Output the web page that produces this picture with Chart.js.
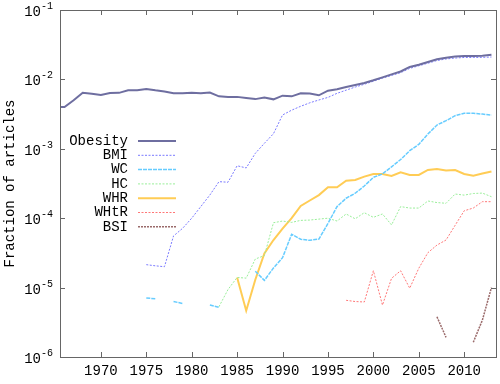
<!DOCTYPE html>
<html>
<head>
<meta charset="utf-8">
<script src="https://cdn.jsdelivr.net/npm/chart.js@4"></script>
<style>
  html, body { margin: 0; padding: 0; background: #fff; }
  #wrap { width: 500px; height: 384px; }
</style>
</head>
<body>
<div id="wrap"><canvas id="lineChart"></canvas></div>
<script>
// years 1965..2013
var years = [];
for (var y = 1965; y <= 2013; y++) years.push(y);

// pad a series with nulls so it starts at the given year
function fromYear(start, vals) {
    var out = [];
    for (var i = 1965; i < start; i++) out.push(null);
    return out.concat(vals);
}

var seriesNames = ['Obesity', 'BMI', 'WC', 'HC', 'WHR', 'WHtR', 'BSI'];

var obesity = [4.0e-3, 4.0e-3, 5.0e-3, 6.4e-3, 6.2e-3, 5.96e-3, 6.37e-3, 6.4e-3, 6.96e-3, 7.0e-3,
    7.28e-3, 6.96e-3, 6.7e-3, 6.3e-3, 6.3e-3, 6.4e-3, 6.3e-3, 6.45e-3, 5.7e-3, 5.6e-3,
    5.6e-3, 5.4e-3, 5.2e-3, 5.5e-3, 5.16e-3, 5.83e-3, 5.7e-3, 6.3e-3, 6.25e-3, 5.9e-3,
    6.88e-3, 7.2e-3, 7.76e-3, 8.3e-3, 8.87e-3, 9.7e-3, 1.07e-2, 1.18e-2, 1.3e-2, 1.51e-2,
    1.63e-2, 1.78e-2, 1.95e-2, 2.05e-2, 2.13e-2, 2.17e-2, 2.17e-2, 2.2e-2, 2.27e-2];

var bmi = fromYear(1975, [2.14e-5, 2.06e-5, 2.0e-5, 5.55e-5, 7.15e-5, 1.0e-4, 1.47e-4, 2.16e-4, 3.36e-4, 3.3e-4,
    5.7e-4, 5.3e-4, 8.6e-4, 1.2e-3, 1.65e-3, 3.07e-3, 3.6e-3, 4.1e-3, 4.6e-3, 5.05e-3,
    5.5e-3, 6.3e-3, 7.0e-3, 7.76e-3, 8.5e-3, 9.4e-3, 1.04e-2, 1.14e-2, 1.25e-2, 1.44e-2,
    1.57e-2, 1.71e-2, 1.87e-2, 1.97e-2, 2.03e-2, 2.07e-2, 2.07e-2, 2.08e-2, 2.1e-2]);

var wc = fromYear(1975, [7.1e-6, 6.9e-6, null, 6.3e-6, 5.9e-6, null, null, 5.6e-6, 5.2e-6, null,
    null, null, 1.72e-5, 1.27e-5, 1.92e-5, 2.7e-5, 5.86e-5, 4.97e-5, 4.8e-5, 5.0e-5,
    8.4e-5, 1.47e-4, 1.94e-4, 2.29e-4, 2.91e-4, 3.88e-4, 4.34e-4, 5.5e-4, 7.0e-4, 9.4e-4,
    1.16e-3, 1.63e-3, 2.2e-3, 2.54e-3, 3.0e-3, 3.24e-3, 3.24e-3, 3.16e-3, 3.07e-3]);

var hc = fromYear(1983, [5.3e-6, 9.4e-6, 1.4e-5, 1.37e-5, 2.58e-5, 2.89e-5, 8.6e-5, 9.1e-5, 8.7e-5, 9.3e-5,
    9.4e-5, 9.7e-5, 1.0e-4, 9.1e-5, 1.15e-4, 9.8e-5, 1.2e-4, 1.03e-4, 1.15e-4, 8.0e-5,
    1.47e-4, 1.4e-4, 1.4e-4, 1.77e-4, 1.68e-4, 1.64e-4, 2.23e-4, 2.15e-4, 2.27e-4, 2.3e-4,
    2.04e-4]);

var whr = fromYear(1985, [1.4e-5, 4.65e-6, 1.3e-5, 3.1e-5, 4.85e-5, 7.1e-5, 1.0e-4, 1.5e-4, 1.8e-4, 2.15e-4,
    2.79e-4, 2.79e-4, 3.47e-4, 3.55e-4, 3.97e-4, 4.34e-4, 4.34e-4, 4.05e-4, 4.6e-4, 4.2e-4,
    4.2e-4, 4.95e-4, 5.1e-4, 4.85e-4, 4.95e-4, 4.34e-4, 4.1e-4, 4.4e-4, 4.7e-4]);

var whtr = fromYear(1997, [6.56e-6, 6.3e-6, 6.2e-6, 1.75e-5, 5.6e-6, 1.36e-5, 1.75e-5, 9.8e-6, 1.9e-5, 3.18e-5,
    4.1e-5, 4.85e-5, 7.9e-5, 1.28e-4, 1.4e-4, 1.73e-4, 1.73e-4]);

var bsi = fromYear(2007, [3.8e-6, 1.92e-6, null, null, 1.63e-6, 3.4e-6, 1.0e-5]);

var xTicks = [1970, 1975, 1980, 1985, 1990, 1995, 2000, 2005, 2010];
var yTicks = [1e-6, 1e-5, 1e-4, 1e-3, 1e-2, 1e-1];
var yTickExp = ['-6', '-5', '-4', '-3', '-2', '-1'];

var monoFont = '"Liberation Mono", "DejaVu Sans Mono", monospace';

function ds(label, data, color, width, dash) {
    return {
        label: label,
        data: data,
        borderColor: color,
        backgroundColor: color,
        borderWidth: width,
        borderDash: dash,
        pointRadius: 0,
        tension: 0,
        spanGaps: false
    };
}

// gnuplot style frame, inward ticks, y labels with superscripts and key
var framePlugin = {
    id: 'frame',
    afterDraw: function (chart) {
        var c = chart.ctx, a = chart.chartArea;
        var xs = chart.scales.x, ys = chart.scales.y;
        c.save();
        c.strokeStyle = '#666';
        c.lineWidth = 1;
        c.setLineDash([]);
        c.strokeRect(Math.round(a.left) + 0.5, Math.round(a.top) + 0.5,
            Math.round(a.right - a.left), Math.round(a.bottom - a.top));
        c.beginPath();
        xTicks.forEach(function (t) {
            var px = Math.round(xs.getPixelForValue(t)) + 0.5;
            c.moveTo(px, a.bottom); c.lineTo(px, a.bottom - 5);
            c.moveTo(px, a.top); c.lineTo(px, a.top + 5);
        });
        yTicks.forEach(function (t) {
            var py = Math.round(ys.getPixelForValue(t)) + 0.5;
            c.moveTo(a.left, py); c.lineTo(a.left + 5, py);
            c.moveTo(a.right, py); c.lineTo(a.right - 5, py);
        });
        c.stroke();

        // y tick labels 10^n
        c.fillStyle = '#000';
        c.textBaseline = 'alphabetic';
        yTicks.forEach(function (t, i) {
            var py = ys.getPixelForValue(t);
            c.font = '10px ' + monoFont;
            c.textAlign = 'right';
            c.fillText(yTickExp[i], 53, py - 1);
            var ew = c.measureText(yTickExp[i]).width;
            c.font = '14px ' + monoFont;
            c.fillText('10', 53 - ew, py + 6);
        });

        // key
        c.font = '14px ' + monoFont;
        c.textAlign = 'right';
        c.textBaseline = 'middle';
        chart.data.datasets.forEach(function (d, i) {
            var ry = 141 + i * 14.3;
            c.fillStyle = '#000';
            c.fillText(d.label, 128, ry);
            c.strokeStyle = d.borderColor;
            c.lineWidth = d.borderWidth;
            c.setLineDash(d.borderDash || []);
            c.beginPath();
            c.moveTo(138, ry); c.lineTo(176, ry);
            c.stroke();
        });
        c.restore();
    }
};

var ctx = document.getElementById('lineChart').getContext('2d');
var myChart = new Chart(ctx, {
    type: 'line',
    data: {
        labels: years,
        datasets: [
            ds(seriesNames[0], obesity, '#6e6ea0', 2, []),
            ds(seriesNames[1], bmi, '#7a7aff', 1, [2, 1.5]),
            ds(seriesNames[2], wc, '#66ccff', 1.5, [4, 1]),
            ds(seriesNames[3], hc, '#99ee99', 1, [2, 1.5]),
            ds(seriesNames[4], whr, '#ffcc55', 2, []),
            ds(seriesNames[5], whtr, '#ff7777', 1, [2, 1.5]),
            ds(seriesNames[6], bsi, '#9a6a6a', 1.5, [2, 1])
        ]
    },
    options: {
        responsive: true,
        maintainAspectRatio: false,
        animation: false,
        layout: { padding: { top: 10, right: 4, left: 0, bottom: 0 } },
        plugins: {
            legend: { display: false },
            tooltip: { enabled: false }
        },
        scales: {
            x: {
                type: 'linear',
                min: 1965.5,
                max: 2013.5,
                grid: { display: false, drawTicks: false },
                border: { display: false },
                afterBuildTicks: function (s) {
                    s.ticks = xTicks.map(function (v) { return { value: v }; });
                },
                afterFit: function (s) { s.height = 27; },
                ticks: {
                    padding: 6,
                    maxRotation: 0,
                    color: '#000',
                    font: { family: monoFont, size: 14 },
                    callback: function (v) { return String(v); }
                }
            },
            y: {
                type: 'logarithmic',
                min: 1e-6,
                max: 1e-1,
                grid: { display: false, drawTicks: false },
                border: { display: false },
                afterBuildTicks: function (s) {
                    s.ticks = yTicks.map(function (v) { return { value: v }; });
                },
                afterFit: function (s) { s.width = 60; },
                ticks: { display: false },
                title: {
                    display: true,
                    text: 'Fraction of articles',
                    color: '#000',
                    padding: { top: 2, bottom: 0 },
                    font: { family: monoFont, size: 14 }
                }
            }
        }
    },
    plugins: [framePlugin]
});
</script>
</body>
</html>
